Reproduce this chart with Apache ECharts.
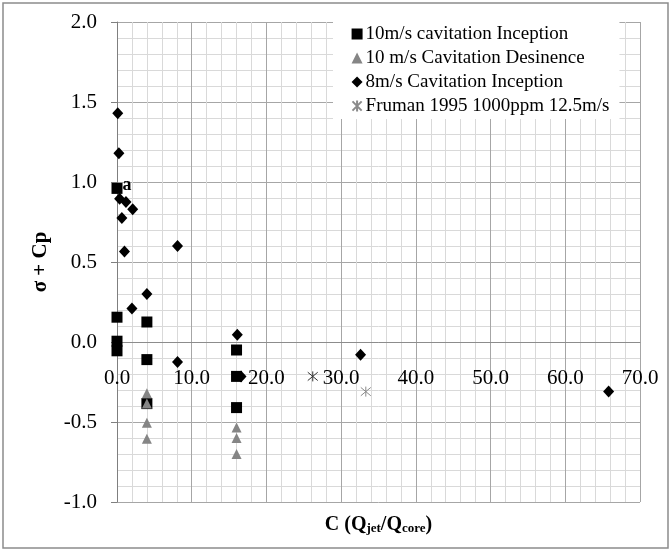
<!DOCTYPE html>
<html><head><meta charset="utf-8">
<script src="https://cdn.jsdelivr.net/npm/echarts@6/dist/echarts.min.js"></script>
<style>html,body{margin:0;padding:0;background:#fff}#c{width:672px;height:552px}</style>
</head><body><div id="c"></div>
<script>
// ---- data ----
const seriesNames = ['10m/s cavitation Inception', '10 m/s Cavitation Desinence', '8m/s Cavitation Inception', 'Fruman 1995 1000ppm 12.5m/s'];
const insp10X = [0, 0, 0, 0, 4, 4, 4, 16, 16, 16];
const insp10Y = [0.96, 0.155, 0.005, -0.055, 0.125, -0.11, -0.385, -0.05, -0.215, -0.41];
const des10X = [4, 4, 4, 4, 16, 16, 16];
const des10Y = [-0.32, -0.385, -0.505, -0.605, -0.535, -0.60, -0.70];
const insp8X = [0.1, 0.25, 0.35, 1.2, 2.1, 0.65, 1.0, 8.1, 4.0, 2.0, 8.1, 16.1, 16.6, 32.6, 65.8];
const insp8Y = [1.43, 1.18, 0.895, 0.875, 0.83, 0.775, 0.565, 0.60, 0.30, 0.21, -0.125, 0.045, -0.215, -0.08, -0.31];
const frumanX = [26.2, 33.3];
const frumanY = [-0.215, -0.31];
const pointLabel = 'a';
const xTickMin = 0, xTickMax = 70, xTickStep = 10;
const yTickMin = -1.0, yTickMax = 2.0, yTickStep = 0.5;
const yAxisTitle = 'σ + Cp';

const serif = '"Liberation Serif","Times New Roman",serif';
const pair = (xs, ys) => xs.map((x, i) => [x, ys[i]]);

const gridTop = 22, gridBottom = 50, chartH = 552;
const plotH = chartH - gridTop - gridBottom;
// shift x axis up so it crosses at y = 0 (as in the reference)
const xAxisOffset = -plotH * (0 - yTickMin) / (yTickMax - yTickMin);

const d1 = pair(insp10X, insp10Y).map((p, i) => i === 0 ? {
  value: p,
  label: { show: true, formatter: pointLabel, position: 'right', distance: 1, offset: [-1, -3],
    fontFamily: serif, fontWeight: 'bold', fontSize: 18, color: '#000' }
} : p);
const d4 = pair(frumanX, frumanY).map((p, i) => ({ value: p, itemStyle: { borderColor: i === 0 ? '#333' : '#8a8a8a' } }));

const chart = echarts.init(document.getElementById('c'));
chart.setOption({
  animation: false,
  backgroundColor: '#fff',
  grid: { left: 117, right: 32, top: gridTop, bottom: gridBottom, containLabel: false, outerBoundsMode: 'none' },
  graphic: [{ type: 'rect', shape: { x: 3, y: 3, width: 665, height: 545 }, style: { fill: 'none', stroke: '#8c8c8c', lineWidth: 1.5 }, z: -10 }],
  legend: {
    orient: 'vertical', left: 333, top: 22,
    padding: [2, 10, 3, 17], itemGap: 4, itemWidth: 11, itemHeight: 11,
    backgroundColor: '#fff',
    textStyle: { fontFamily: serif, fontSize: 19, color: '#000', lineHeight: 20, padding: [0, 0, 0, -2] },
    data: seriesNames
  },
  xAxis: {
    type: 'value', min: xTickMin, max: xTickMax, interval: xTickStep,
    position: 'bottom', offset: xAxisOffset,
    axisLine: { onZero: false, lineStyle: { color: '#8c8c8c', width: 1 } },
    axisTick: { show: false },
    minorTick: { show: false, splitNumber: 5 },
    axisLabel: { margin: 26, fontFamily: serif, fontSize: 21, color: '#000', formatter: v => v.toFixed(1) },
    splitLine: { show: true, lineStyle: { color: '#a6a6a6', width: 1 } },
    minorSplitLine: { show: true, lineStyle: { color: '#d9d9d9', width: 1 } },
    name: '{b|C (Q}{s|jet}{b|/Q}{s|core}{b|)}', nameLocation: 'middle', nameGap: 172,
    nameTextStyle: { rich: {
      b: { fontFamily: serif, fontWeight: 'bold', fontSize: 20, color: '#000' },
      s: { fontFamily: serif, fontWeight: 'bold', fontSize: 13, color: '#000', verticalAlign: 'bottom', padding: [8, 0, 0, 0] }
    } }
  },
  yAxis: {
    type: 'value', min: yTickMin, max: yTickMax, interval: yTickStep,
    axisLine: { show: true, onZero: false, lineStyle: { color: '#7f7f7f', width: 1 } },
    axisTick: { show: true, length: 6, lineStyle: { color: '#7f7f7f' } },
    minorTick: { show: false, splitNumber: 5 },
    axisLabel: { margin: 20, fontFamily: serif, fontSize: 21, color: '#000', formatter: v => v.toFixed(1) },
    splitLine: { show: true, lineStyle: { color: '#a6a6a6', width: 1 } },
    minorSplitLine: { show: true, lineStyle: { color: '#d9d9d9', width: 1 } },
    name: yAxisTitle, nameLocation: 'middle', nameGap: 66, nameRotate: 90,
    nameTextStyle: { fontFamily: serif, fontWeight: 'bold', fontSize: 21, color: '#000' }
  },
  series: [
    { name: seriesNames[0], type: 'scatter', clip: false, symbol: 'rect', symbolSize: 11,
      itemStyle: { color: '#000', opacity: 1 }, data: d1 },
    { name: seriesNames[1], type: 'scatter', clip: false, symbol: 'triangle', symbolSize: 10,
      itemStyle: { color: '#858585', opacity: 1 }, data: pair(des10X, des10Y) },
    { name: seriesNames[2], type: 'scatter', clip: false, symbol: 'diamond', symbolSize: [11, 12],
      itemStyle: { color: '#000', opacity: 1 }, data: pair(insp8X, insp8Y) },
    { name: seriesNames[3], type: 'scatter', clip: false,
      symbol: 'path://M0,0L10,10M10,0L0,10M5,-1L5,11', symbolSize: 10,
      itemStyle: { color: 'none', borderColor: '#8a8a8a', borderWidth: 1, opacity: 1 }, data: d4 }
  ]
});
</script></body></html>
